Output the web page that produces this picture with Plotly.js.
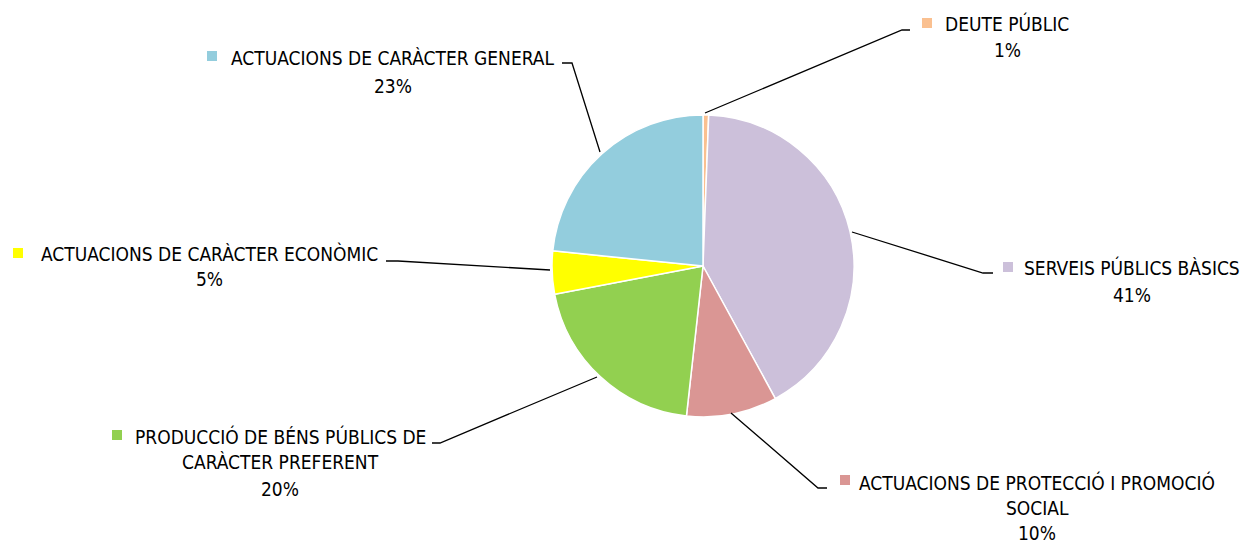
<!DOCTYPE html>
<html>
<head>
<meta charset="utf-8">
<script src="https://cdn.plot.ly/plotly-3.0.1.min.js"></script>
<style>html,body{margin:0;padding:0;background:#fff;}#chart{width:1245px;height:543px;}</style>
</head>
<body>
<div id="chart"></div>
<script>
// Data (percent of total)
const categories = [
  "DEUTE PÚBLIC",
  "SERVEIS PÚBLICS BÀSICS",
  "ACTUACIONS DE PROTECCIÓ I PROMOCIÓ SOCIAL",
  "PRODUCCIÓ DE BÉNS PÚBLICS DE CARÀCTER PREFERENT",
  "ACTUACIONS DE CARÀCTER ECONÒMIC",
  "ACTUACIONS DE CARÀCTER GENERAL"
];
const values = [0.6, 41.45, 9.7, 20.25, 4.6, 23.4];
const labelLines = [
  ["DEUTE PÚBLIC"],
  ["SERVEIS PÚBLICS BÀSICS"],
  ["ACTUACIONS DE PROTECCIÓ I PROMOCIÓ", "SOCIAL"],
  ["PRODUCCIÓ DE BÉNS PÚBLICS DE", "CARÀCTER PREFERENT"],
  ["ACTUACIONS DE CARÀCTER ECONÒMIC"],
  ["ACTUACIONS DE CARÀCTER GENERAL"]
];
const colors = ["#FAC090", "#CCC0DA", "#DA9694", "#92D050", "#FFFF00", "#93CDDD"];

// Layout helpers (pixel -> paper)
const W = 1245, H = 543;
const px = x => x / W;
const py = y => 1 - y / H;

// label placement: text centre x, line centre ys, marker centre, leader line points
const place = [
  {x: 1007, ys: [23, 50], mk: [927, 23], line: [[705,113],[902,30],[910,30]]},
  {x: 1132, ys: [267, 295], mk: [1008, 267], line: [[852,232],[983,273],[993,273]]},
  {x: 1037, ys: [482, 508, 533], mk: [845, 480], line: [[731,413],[818,488],[827,488]]},
  {x: 280, ys: [436, 462, 489], mk: [117, 435], line: [[597,377],[440,443],[432,443]]},
  {x: 209, ys: [253, 279], mk: [18, 253], line: [[550,270],[398,261],[386,261]]},
  {x: 393, ys: [58, 86], mk: [212, 56], line: [[600,152],[572,63],[562,63]]}
];

const FONT = "'DejaVu Sans Condensed', 'Liberation Sans Narrow', sans-serif";
const total = values.reduce((a, b) => a + b, 0);

const annotations = [];
const shapes = [];
categories.forEach((c, i) => {
  const p = place[i];
  const lines = labelLines[i].concat([Math.round(values[i] / total * 100) + "%"]);
  lines.forEach((t, j) => {
    annotations.push({
      text: t, x: px(p.x), y: py(p.ys[j]), xref: "paper", yref: "paper",
      xanchor: "center", yanchor: "middle", showarrow: false,
      font: {family: FONT, size: 19, color: "#000"}
    });
  });
  shapes.push({
    type: "rect", xref: "paper", yref: "paper",
    x0: px(p.mk[0] - 5), x1: px(p.mk[0] + 5), y0: py(p.mk[1] + 5), y1: py(p.mk[1] - 5),
    fillcolor: colors[i], line: {width: 0}
  });
  const path = p.line.map((pt, k) => (k ? "L" : "M") + px(pt[0]) + "," + py(pt[1])).join(" ");
  shapes.push({type: "path", xref: "paper", yref: "paper", path: path, line: {color: "#000", width: 1.3}});
});

const cx = 703, cy = 266, r = 151;
const trace = {
  type: "pie",
  labels: categories,
  values: values,
  sort: false,
  direction: "clockwise",
  rotation: 0,
  textinfo: "none",
  hoverinfo: "label+percent",
  marker: {colors: colors, line: {color: "#ffffff", width: 1.5}},
  domain: {x: [px(cx - r), px(cx + r)], y: [py(cy + r), py(cy - r)]},
  showlegend: false
};

const layout = {
  width: W, height: H,
  margin: {l: 0, r: 0, t: 0, b: 0},
  paper_bgcolor: "#fff",
  showlegend: false,
  annotations: annotations,
  shapes: shapes
};

Plotly.newPlot("chart", [trace], layout, {displayModeBar: false, staticPlot: true});
</script>
</body>
</html>
